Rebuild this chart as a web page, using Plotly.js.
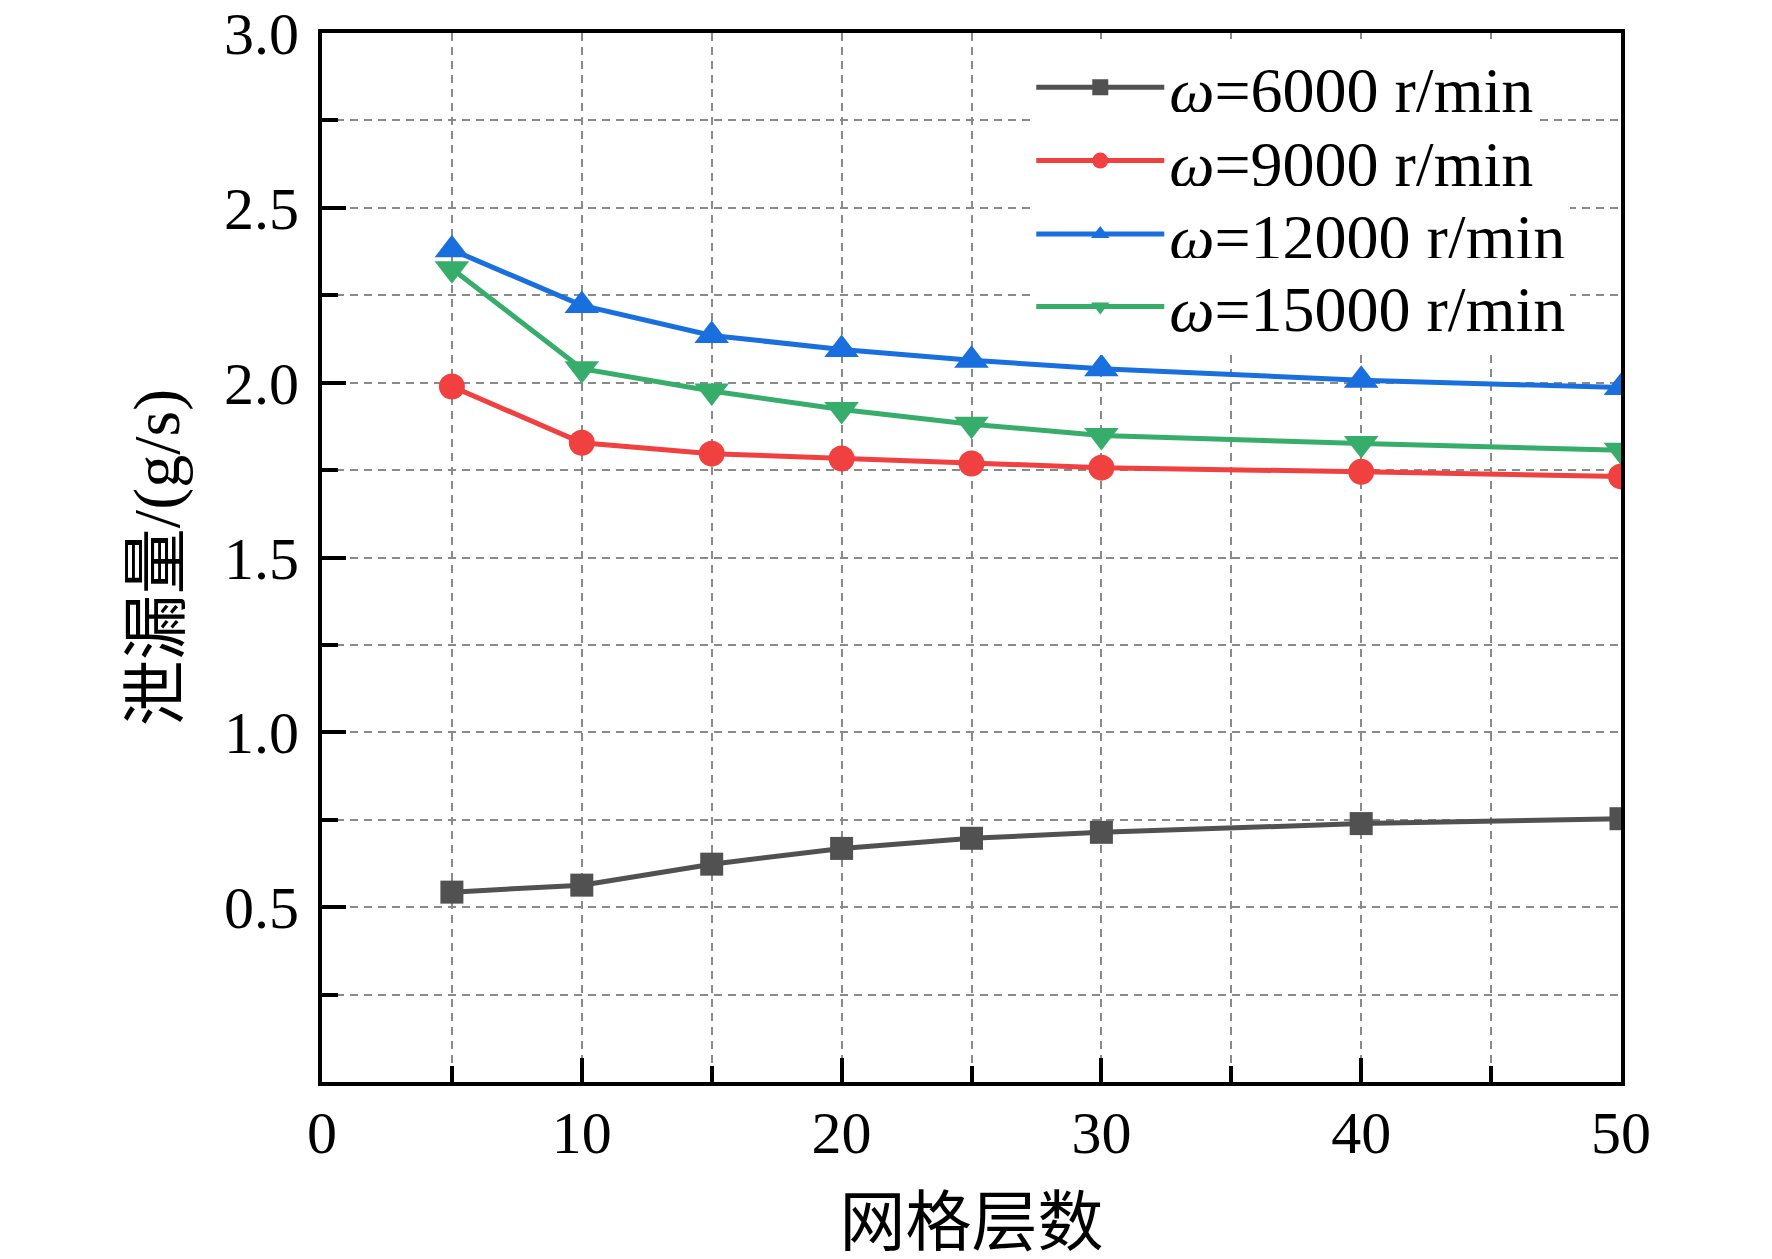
<!DOCTYPE html>
<html>
<head>
<meta charset="utf-8">
<script src="https://cdn.plot.ly/plotly-3.0.1.min.js"></script>
<style>
  html, body { margin: 0; padding: 0; background: #fff; }
  #myDiv { width: 1772px; height: 1259px; }
</style>
</head>
<body>
<div id="myDiv"></div>
<script>
// grid layer counts
var layers = [5, 10, 15, 20, 25, 30, 40, 50];

// leakage (g/s) for each speed
var leak6000  = [0.543, 0.563, 0.623, 0.668, 0.697, 0.714, 0.739, 0.753];
var leak9000  = [1.989, 1.828, 1.797, 1.783, 1.769, 1.757, 1.745, 1.732];
var leak12000 = [2.380, 2.221, 2.135, 2.095, 2.064, 2.040, 2.007, 1.986];
var leak15000 = [2.326, 2.040, 1.976, 1.923, 1.881, 1.849, 1.826, 1.807];

var seriesNames = ['<i>ω</i>=6000 r/min', '<i>ω</i>=9000 r/min', '<i>ω</i>=12000 r/min', '<i>ω</i>=15000 r/min'];

var xTickVals = [0, 10, 20, 30, 40, 50];
var xTickText = ['0', '10', '20', '30', '40', '50'];
var yTickVals = [0.5, 1.0, 1.5, 2.0, 2.5, 3.0];
var yTickText = ['0.5', '1.0', '1.5', '2.0', '2.5', '3.0'];

var serif = 'Liberation Serif, Times New Roman, serif';
var cjk = 'Liberation Serif, Noto Sans CJK SC, serif';

function makeTrace(y, name, color, symbol, size, legendId) {
  return {
    x: layers,
    y: y,
    name: name,
    legend: legendId,
    type: 'scatter',
    mode: 'lines+markers',
    line: { color: color, width: 5 },
    marker: { color: color, symbol: symbol, size: size }
  };
}

var data = [
  makeTrace(leak6000,  seriesNames[0], '#515151', 'square', 23, 'legend'),
  makeTrace(leak9000,  seriesNames[1], '#F14040', 'circle', 26, 'legend2'),
  makeTrace(leak12000, seriesNames[2], '#1A6FDF', 'triangle-up', 30, 'legend3'),
  makeTrace(leak15000, seriesNames[3], '#37AD6B', 'triangle-down', 30, 'legend4')
];

// one legend box per entry so the rows can sit as tight as in the original
function legendAt(yPos) {
  return {
    x: 0.546, y: yPos, xanchor: 'left', yanchor: 'middle',
    bgcolor: '#ffffff',
    borderwidth: 0,
    font: { family: serif, size: 64, color: '#000' },
    itemwidth: 128
  };
}

var gridCol = '#8a8a8a';

var layout = {
  width: 1772,
  height: 1259,
  margin: { l: 322, r: 151, t: 33, b: 177 },
  paper_bgcolor: '#ffffff',
  plot_bgcolor: '#ffffff',
  showlegend: true,
  legend: legendAt(0.948),
  legend2: legendAt(0.878),
  legend3: legendAt(0.808),
  legend4: legendAt(0.739),
  xaxis: {
    range: [0, 50],
    tickmode: 'array',
    tickvals: xTickVals,
    ticktext: xTickText,
    ticks: 'inside',
    ticklen: 24,
    tickwidth: 4,
    tickcolor: '#000',
    ticklabelstandoff: -5,
    tickfont: { family: serif, size: 60, color: '#000' },
    showline: true,
    linecolor: '#000',
    linewidth: 4,
    mirror: true,
    showgrid: true,
    gridcolor: gridCol,
    gridwidth: 2,
    griddash: '8px,6px',
    zeroline: false,
    minor: {
      dtick: 5, tick0: 0,
      ticks: 'inside', ticklen: 16, tickwidth: 4, tickcolor: '#000',
      showgrid: true, gridcolor: gridCol, gridwidth: 2, griddash: '8px,6px'
    },
    title: { text: '网格层数', font: { family: cjk, size: 66, color: '#000' }, standoff: 50 }
  },
  yaxis: {
    range: [0, 3],
    tickmode: 'array',
    tickvals: yTickVals,
    ticktext: yTickText,
    ticks: 'inside',
    ticklen: 24,
    tickwidth: 4,
    tickcolor: '#000',
    ticklabelstandoff: 7,
    tickfont: { family: serif, size: 60, color: '#000' },
    showline: true,
    linecolor: '#000',
    linewidth: 4,
    mirror: true,
    showgrid: true,
    gridcolor: gridCol,
    gridwidth: 2,
    griddash: '8px,6px',
    zeroline: false,
    minor: {
      dtick: 0.25, tick0: 0,
      ticks: 'inside', ticklen: 16, tickwidth: 4, tickcolor: '#000',
      showgrid: true, gridcolor: gridCol, gridwidth: 2, griddash: '8px,6px'
    },
    title: { text: '泄漏量/(g/s)', font: { family: cjk, size: 66, color: '#000' }, standoff: 24 }
  }
};

Plotly.newPlot('myDiv', data, layout, { staticPlot: true });
</script>
</body>
</html>
